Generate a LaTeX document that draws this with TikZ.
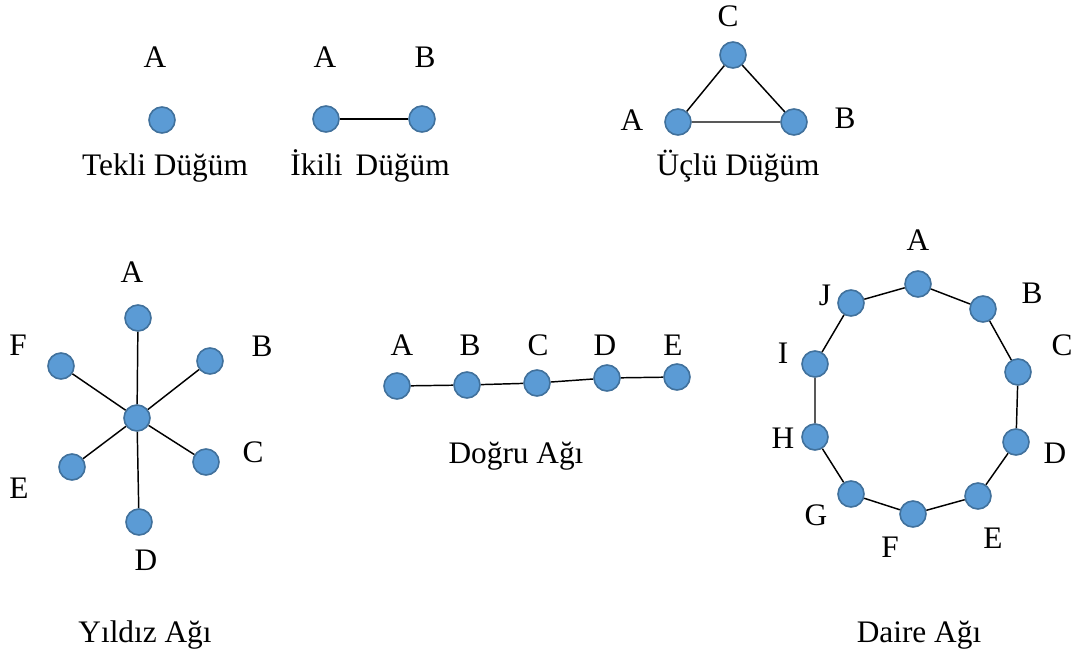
\documentclass[tikz,border=0pt]{standalone}
\usepackage{fontspec}
\setmainfont{Liberation Serif}
\definecolor{nodeblue}{HTML}{5B9BD5}
\definecolor{nodeedge}{HTML}{41719C}
\begin{document}
\begin{tikzpicture}[
    x=0.75pt, y=-0.75pt,
    dugum/.style={circle, draw=nodeedge, line width=1.2pt, fill=nodeblue, minimum size=19.5pt, inner sep=0pt},
    etiket/.style={font=\fontsize{23.5}{26}\selectfont, anchor=base, inner sep=0pt},
    kenar/.style={line width=1.1pt, black}
]
\useasboundingbox (0,0) rectangle (1081,657);

% Tekli dugum
\node[dugum] (tekA) at (162,120) {};
\node[etiket] (tekAl) at (155,67) {A};
\node[etiket] (tekBaslik) at (165,175) {Tekli Düğüm};

% Ikili dugum
\node[dugum] (ikiA) at (326,119) {};
\node[dugum] (ikiB) at (422,119) {};
\node[etiket] (ikiAl) at (325,67) {A};
\node[etiket] (ikiBl) at (425,67) {B};
\node[etiket] (ikiBaslik) at (370,175) {İkili\, Düğüm};
\draw[kenar] (ikiA) -- (ikiB);

% Uclu dugum
\node[dugum] (ucC) at (733,55) {};
\node[dugum] (ucA) at (678,122) {};
\node[dugum] (ucB) at (794,122) {};
\node[etiket] (ucCl) at (728,26) {C};
\node[etiket] (ucAl) at (632,130) {A};
\node[etiket] (ucBl) at (845,128) {B};
\node[etiket] (ucBaslik) at (738,175) {Üçlü Düğüm};
\draw[kenar] (ucA) -- (ucC) -- (ucB) -- (ucA);

% Yildiz agi
\node[dugum] (yM) at (137,418) {};
\node[dugum] (yA) at (138,318) {};
\node[dugum] (yB) at (210,361) {};
\node[dugum] (yC) at (206,462) {};
\node[dugum] (yD) at (139,522) {};
\node[dugum] (yE) at (72,467) {};
\node[dugum] (yF) at (61,366) {};
\node[etiket] (yAl) at (132,282) {A};
\node[etiket] (yBl) at (262,356) {B};
\node[etiket] (yCl) at (253,462) {C};
\node[etiket] (yDl) at (146,570) {D};
\node[etiket] (yEl) at (19,498) {E};
\node[etiket] (yFl) at (18,355) {F};
\node[etiket] (yBaslik) at (145,642) {Yıldız Ağı};
\draw[kenar] (yM) -- (yA);
\draw[kenar] (yM) -- (yB);
\draw[kenar] (yM) -- (yC);
\draw[kenar] (yM) -- (yD);
\draw[kenar] (yM) -- (yE);
\draw[kenar] (yM) -- (yF);

% Dogru agi
\node[dugum] (dA) at (397,386) {};
\node[dugum] (dB) at (467,385) {};
\node[dugum] (dC) at (537,383) {};
\node[dugum] (dD) at (607,378) {};
\node[dugum] (dE) at (677,377) {};
\node[etiket] (dAl) at (402,355) {A};
\node[etiket] (dBl) at (470,355) {B};
\node[etiket] (dCl) at (538,355) {C};
\node[etiket] (dDl) at (605,355) {D};
\node[etiket] (dEl) at (673,355) {E};
\node[etiket] (dBaslik) at (516,463) {Doğru Ağı};
\draw[kenar] (dA) -- (dB) -- (dC) -- (dD) -- (dE);

% Daire agi
\node[dugum] (rA) at (918,284) {};
\node[dugum] (rB) at (983,309) {};
\node[dugum] (rC) at (1018,372) {};
\node[dugum] (rD) at (1016,442) {};
\node[dugum] (rE) at (978,496) {};
\node[dugum] (rF) at (913,514) {};
\node[dugum] (rG) at (851,494) {};
\node[dugum] (rH) at (815,437) {};
\node[dugum] (rI) at (815,364) {};
\node[dugum] (rJ) at (851,303) {};
\node[etiket] (rAl) at (918,250) {A};
\node[etiket] (rBl) at (1032,303) {B};
\node[etiket] (rCl) at (1062,355) {C};
\node[etiket] (rDl) at (1055,463) {D};
\node[etiket] (rEl) at (993,548) {E};
\node[etiket] (rFl) at (890,557) {F};
\node[etiket] (rGl) at (816,525) {G};
\node[etiket] (rHl) at (783,448) {H};
\node[etiket] (rIl) at (783,363) {I};
\node[etiket] (rJl) at (825,305) {J};
\node[etiket] (rBaslik) at (919,642) {Daire Ağı};
\draw[kenar] (rA) -- (rB) -- (rC) -- (rD) -- (rE) -- (rF) -- (rG) -- (rH) -- (rI) -- (rJ) -- (rA);

\end{tikzpicture}
\end{document}
